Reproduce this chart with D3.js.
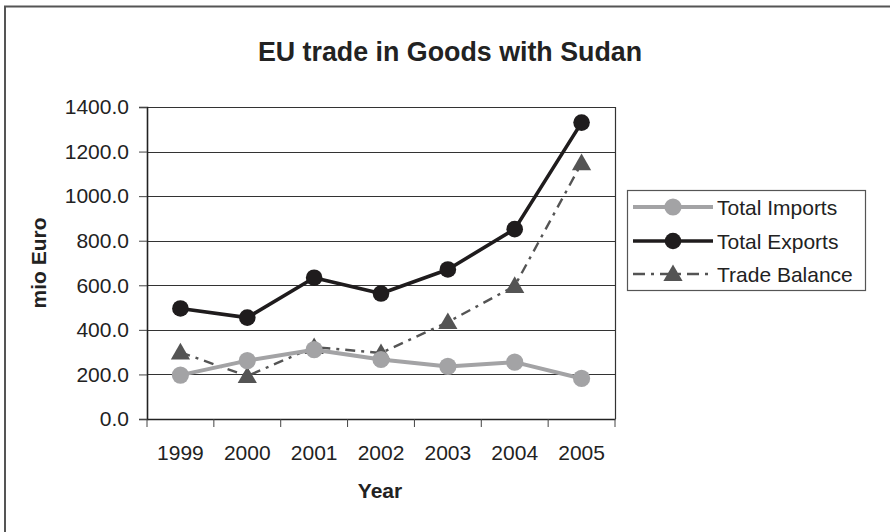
<!DOCTYPE html>
<html>
<head>
<meta charset="utf-8">
<script src="https://cdn.jsdelivr.net/npm/d3@7"></script>
<style>
  html, body { margin: 0; padding: 0; background: #fff; }
  svg { display: block; font-family: "Liberation Sans", Arial, Helvetica, sans-serif; }
</style>
</head>
<body>
<svg id="chart" width="890" height="532"></svg>
<script>
// EU trade in goods with Sudan, mio Euro
const years = ["1999", "2000", "2001", "2002", "2003", "2004", "2005"];
const totalImports = [197, 262, 311, 267, 236, 255, 182];
const totalExports = [496, 455, 634, 563, 671, 852, 1330];
const tradeBalance = [299, 193, 323, 296, 435, 597, 1148];
const yTicks = [0, 200, 400, 600, 800, 1000, 1200, 1400];
const seriesNames = ["Total Imports", "Total Exports", "Trade Balance"];

const svg = d3.select("#chart");

const plot = { left: 147, right: 615, top: 107, bottom: 419 };

const x = d3.scaleBand().domain(years).range([plot.left, plot.right]).padding(0);
const y = d3.scaleLinear().domain([0, 1400]).range([plot.bottom, plot.top]);

// outer frame (only the top and left edges fall inside the page)
svg.append("rect")
  .attr("x", 5).attr("y", 6.5).attr("width", 1000).attr("height", 1000)
  .attr("fill", "none").attr("stroke", "#555").attr("stroke-width", 2);

// title
svg.append("text")
  .attr("x", 450).attr("y", 61)
  .attr("text-anchor", "middle")
  .attr("font-size", 26.8).attr("font-weight", "bold").attr("fill", "#222")
  .text("EU trade in Goods with Sudan");

// horizontal gridlines
svg.append("g").selectAll("line")
  .data(yTicks.filter(d => d > 0))
  .join("line")
  .attr("x1", plot.left).attr("x2", plot.right)
  .attr("y1", d => Math.round(y(d)) + 0.5).attr("y2", d => Math.round(y(d)) + 0.5)
  .attr("stroke", "#333").attr("stroke-width", 1);

// plot border right side
svg.append("line")
  .attr("x1", plot.right + 0.5).attr("x2", plot.right + 0.5)
  .attr("y1", plot.top).attr("y2", plot.bottom)
  .attr("stroke", "#333").attr("stroke-width", 1.2);

// y axis
const yAxis = svg.append("g")
  .attr("transform", `translate(${plot.left},0)`)
  .call(d3.axisLeft(y).tickValues(yTicks).tickFormat(d3.format(".1f")).tickSize(8).tickPadding(10));
yAxis.select(".domain").attr("stroke", "#222").attr("stroke-width", 1.6);
yAxis.selectAll(".tick line").attr("stroke", "#444");
yAxis.selectAll(".tick text").attr("font-size", 21).attr("fill", "#222")
  .attr("font-family", "'Liberation Sans', Arial, sans-serif");

// x axis: labels centred on categories, ticks on category boundaries
const xAxis = svg.append("g")
  .attr("transform", `translate(0,${plot.bottom})`)
  .call(d3.axisBottom(x).tickSize(0).tickPadding(26));
xAxis.select(".domain").attr("stroke", "#222").attr("stroke-width", 1.6);
xAxis.selectAll(".tick text").attr("font-size", 21).attr("fill", "#222")
  .attr("font-family", "'Liberation Sans', Arial, sans-serif");
const boundaries = years.map(d => x(d)).concat([x(years[years.length - 1]) + x.bandwidth()]);
svg.append("g").selectAll("line")
  .data(boundaries)
  .join("line")
  .attr("x1", d => d).attr("x2", d => d)
  .attr("y1", plot.bottom).attr("y2", plot.bottom + 8)
  .attr("stroke", "#444").attr("stroke-width", 1);

// axis titles
svg.append("text")
  .attr("x", 380).attr("y", 498)
  .attr("text-anchor", "middle")
  .attr("font-size", 21).attr("font-weight", "bold").attr("fill", "#222")
  .text("Year");
svg.append("text")
  .attr("transform", "translate(46,263) rotate(-90)")
  .attr("text-anchor", "middle")
  .attr("font-size", 21).attr("font-weight", "bold").attr("fill", "#222")
  .text("mio Euro");

const cx = d => x(d) + x.bandwidth() / 2;

const styles = {
  imports: { color: "#a3a3a5", width: 4, dash: null, marker: "circle", r: 8.6 },
  exports: { color: "#1f1c1d", width: 3.6, dash: null, marker: "circle", r: 8.3 },
  balance: { color: "#545454", width: 2.4, dash: "10,6,3,6", marker: "triangle", r: 9 }
};

const series = [
  { name: seriesNames[0], values: totalImports, style: styles.imports },
  { name: seriesNames[1], values: totalExports, style: styles.exports },
  { name: seriesNames[2], values: tradeBalance, style: styles.balance }
];

const line = d3.line().x((d, i) => cx(years[i])).y(d => y(d));
const triangle = d3.symbol().type(d3.symbolTriangle).size(160);

function drawMarker(g, px, py, s) {
  if (s.marker === "circle") {
    g.append("circle").attr("cx", px).attr("cy", py).attr("r", s.r).attr("fill", s.color);
  } else {
    g.append("path").attr("d", triangle())
      .attr("transform", `translate(${px},${py + 1.5})`).attr("fill", s.color);
  }
}

// draw order: balance, imports, exports
[series[2], series[0], series[1]].forEach(sr => {
  const g = svg.append("g");
  g.append("path")
    .attr("d", line(sr.values))
    .attr("fill", "none")
    .attr("stroke", sr.style.color)
    .attr("stroke-width", sr.style.width)
    .attr("stroke-dasharray", sr.style.dash)
    .attr("stroke-linejoin", "round");
  sr.values.forEach((v, i) => drawMarker(g, cx(years[i]), y(v), sr.style));
});

// legend
const legend = svg.append("g");
legend.append("rect")
  .attr("x", 627.5).attr("y", 190.5).attr("width", 238).attr("height", 100)
  .attr("fill", "#fff").attr("stroke", "#555").attr("stroke-width", 1.2);
const legendY = [207, 241, 274];
series.forEach((sr, i) => {
  const gy = legendY[i];
  legend.append("line")
    .attr("x1", 633).attr("x2", 713).attr("y1", gy).attr("y2", gy)
    .attr("stroke", sr.style.color).attr("stroke-width", sr.style.width)
    .attr("stroke-dasharray", sr.style.dash ? "12,6,3,6" : null);
  drawMarker(legend, 673, gy, sr.style);
  legend.append("text")
    .attr("x", 717).attr("y", gy).attr("dy", "0.36em")
    .attr("font-size", 21).attr("fill", "#222")
    .text(sr.name);
});
</script>
</body>
</html>
